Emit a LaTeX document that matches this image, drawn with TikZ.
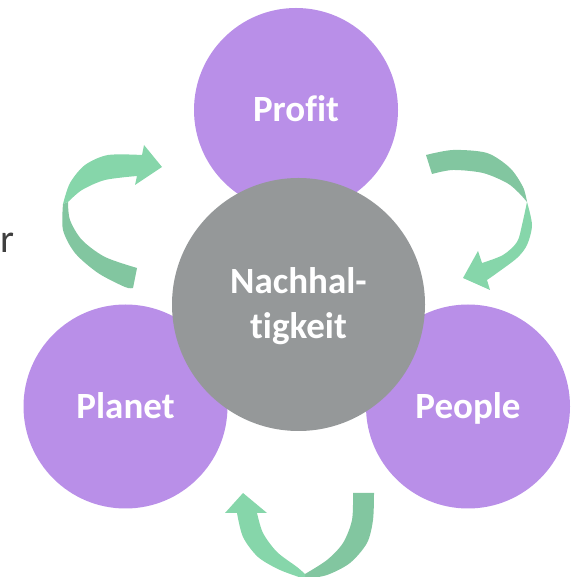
\documentclass[tikz,border=0pt]{standalone}
\usepackage{fontspec}
\setmainfont{Carlito}[Ligatures=NoCommon]
\definecolor{lila}{HTML}{B98FE8}
\definecolor{grau}{HTML}{959899}
\definecolor{gruenhell}{HTML}{86D6AA}
\definecolor{gruendunkel}{HTML}{82C6A0}
\definecolor{schrift}{HTML}{3F3F3F}

\begin{document}
\begin{tikzpicture}[x=1pt,y=1pt,
  blase/.style={circle, inner sep=0pt, text=white, text height=23.5pt, text depth=0pt,
    font=\fontsize{37}{45}\selectfont\bfseries},
  hell/.style={fill=gruenhell},
  dunkel/.style={fill=gruendunkel}]
\def\s{204pt}
\def\m{253pt}
\useasboundingbox (0,0) rectangle (577,577);

\node [blase, fill=lila, minimum size=\s, name=profit] at (296,467) {Profit};
\node [blase, fill=lila, minimum size=\s, name=planet] at (125.5,170.5) {Planet};
\node [blase, fill=lila, minimum size=\s, name=people] at (468,170.5) {People};
\node [blase, fill=grau, minimum size=\m, align=center, text height=68.5pt, name=mitte] at (298.5,272.5) {Nachhal-\\tigkeit};

\node [text=schrift, font=\fontsize{40}{48}\selectfont, anchor=base west, inner sep=0pt, name=rest] at (0,324) {r};

% Pfeil oben links (Planet -> Profit)
\fill[dunkel] plot[smooth] coordinates {(68,375) (70,357) (82,337) (105,320) (137,309)}
  -- plot[smooth] coordinates {(133,289) (125,290) (98,304) (75,324) (63,347) (63,373)} -- cycle;
\fill[hell] plot[smooth] coordinates {(63,373) (70,394) (85,412) (108,422) (142,422)}
  -- (144,432) -- (162,410) -- (135,392)
  -- plot[smooth] coordinates {(137,401) (105,397) (82,387) (68,375)} -- cycle;

% Pfeil oben rechts (Profit -> People)
\fill[dunkel] plot[smooth] coordinates {(426,422) (453,427) (487,424) (510,409) (523,390) (527,375)}
  -- plot[smooth] coordinates {(527,375) (519,384) (507,394) (483,404) (453,407) (432,403)} -- cycle;
\fill[hell] plot[smooth] coordinates {(527,375) (532,352) (527,332) (517,319) (497,304) (487,297)}
  -- (490,287) -- (463,299) -- (478,326)
  -- plot[smooth] coordinates {(482,314) (503,322) (517,335) (522,352) (527,375)} -- cycle;

% Pfeil unten (People -> Planet)
\fill[dunkel] plot[smooth] coordinates {(374,84) (373,57) (367,34) (350,14) (327,2) (305,-2)}
  -- plot[smooth] coordinates {(305,3) (327,17) (343,34) (352,57) (353,84)} -- cycle;
\fill[hell] plot[smooth] coordinates {(237,64) (243,40) (258,20) (280,7) (305,-2)}
  -- plot[smooth] coordinates {(305,3) (297,10) (277,25) (263,44) (257,64)}
  -- (267,64) -- (243,84) -- (225,64) -- cycle;
\end{tikzpicture}
\end{document}
